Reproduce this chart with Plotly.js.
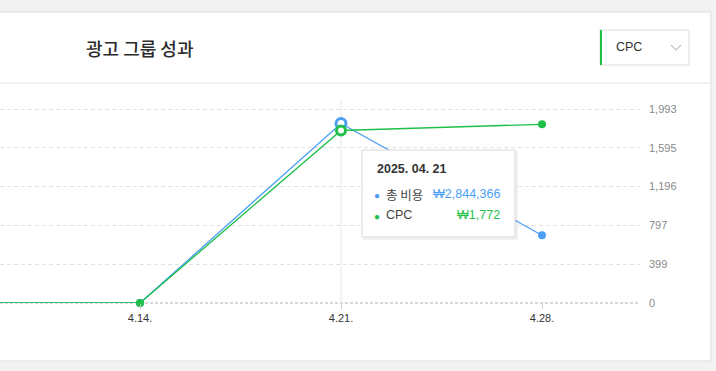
<!DOCTYPE html>
<html><head><meta charset="utf-8">
<script src="https://cdn.plot.ly/plotly-3.0.1.min.js"></script>
<style>html,body{margin:0;padding:0;background:#f2f2f2;}#chart{width:716px;height:371px;}</style>
</head><body><div id="chart"></div>
<script>
const dates = ['2025-04-07', '2025-04-14', '2025-04-21', '2025-04-28'];
const totalCost = [0, 0, 2844366, 1073000];
const cpc = [0, 0, 1772, 1836];
const xTickVals = ['2025-04-14', '2025-04-21', '2025-04-28'];
const xTickText = ['4.14.', '4.21.', '4.28.'];
const yTickVals = [0, 399, 797, 1196, 1595, 1993];
const yTickText = ['0', '399', '797', '1,196', '1,595', '1,993'];
const seriesNames = ['총 비용', 'CPC'];
const chartTitle = '광고 그룹 성과';
const selectLabel = 'CPC';
const hoverIndex = 2;

const BLUE = '#4a9ff5', GREEN = '#1fbf4a';
const W = 716, H = 371, L = 0, R = 76, T = 103, B = 68;
const PW = W - L - R, PH = H - T - B;
const px = x => (x - L) / PW;
const py = y => (H - B - y) / PH;
// top tick (1993) sits at pixel 109, zero at 303
const scale = PH / (303 - 109);

const t0 = Date.UTC(2025, 3, 14), t1 = Date.UTC(2025, 3, 21);
const pxPerMs = (341 - 140) / (t1 - t0);
const xr = [t0 - 140 / pxPerMs, t1 + (PW - 341) / pxPerMs];

const hd = dates[hoverIndex].split('-');
const hoverDate = hd[0] + '. ' + hd[1] + '. ' + hd[2];
const fmt = v => '₩' + Math.round(v).toLocaleString('en-US');

const KR = '"Noto Sans CJK KR", "Noto Sans", sans-serif';
const AR = '"Liberation Sans", Arial, sans-serif';
const YR = [0, 1993 * scale];

const traces = [
  {x: dates, y: cpc, type: 'scatter', mode: 'lines', line: {color: 'rgba(0,0,0,0)', width: 0}, hoverinfo: 'skip'},
  {x: dates, y: totalCost, yaxis: 'y2', type: 'scatter', mode: 'lines+markers', name: seriesNames[0],
   line: {color: BLUE, width: 1.3}, marker: {color: BLUE, size: 8}, cliponaxis: false},
  {x: [dates[hoverIndex]], y: [totalCost[hoverIndex]], yaxis: 'y2', type: 'scatter', mode: 'markers',
   marker: {color: '#ffffff', size: 10, line: {color: BLUE, width: 3}}, cliponaxis: false},
  {x: dates, y: cpc, yaxis: 'y3', type: 'scatter', mode: 'lines+markers', name: seriesNames[1],
   line: {color: GREEN, width: 1.3}, marker: {color: GREEN, size: 8}, cliponaxis: false},
  {x: [dates[hoverIndex]], y: [cpc[hoverIndex]], yaxis: 'y3', type: 'scatter', mode: 'markers',
   marker: {color: '#ffffff', size: 9, line: {color: GREEN, width: 3}}, cliponaxis: false}
];

const shapes = [
  {type: 'rect', xref: 'paper', yref: 'paper', x0: px(-5), x1: px(711), y0: py(361), y1: py(12),
   fillcolor: '#ffffff', line: {color: '#dddddd', width: 1}, layer: 'below'},
  {type: 'line', xref: 'paper', yref: 'paper', x0: px(-5), x1: px(711), y0: py(83), y1: py(83),
   line: {color: '#e3e3e3', width: 1}, layer: 'below'},
  {type: 'rect', xref: 'paper', yref: 'paper', x0: px(600), x1: px(689), y0: py(65), y1: py(30),
   fillcolor: '#ffffff', line: {color: '#dddddd', width: 1}, layer: 'below'},
  {type: 'line', xref: 'paper', yref: 'paper', x0: px(601), x1: px(601), y0: py(65), y1: py(30),
   line: {color: GREEN, width: 2}, layer: 'below'},
  {type: 'path', xref: 'paper', yref: 'paper',
   path: 'M ' + px(671) + ' ' + py(45) + ' L ' + px(676) + ' ' + py(50) + ' L ' + px(681) + ' ' + py(45),
   line: {color: '#c4c4c4', width: 1.2}},
  {type: 'line', xref: 'paper', yref: 'paper', x0: 0, x1: 1, y0: 0, y1: 0,
   line: {color: '#b0b0b0', width: 1, dash: '3px,2px'}, layer: 'below'},
  {type: 'line', xref: 'x', yref: 'paper', x0: dates[hoverIndex], x1: dates[hoverIndex], y0: 0, y1: py(100),
   line: {color: '#e6e6e6', width: 1}, layer: 'below'},
  {type: 'rect', xref: 'paper', yref: 'paper', x0: px(363), x1: px(518), y0: py(240), y1: py(151),
   fillcolor: 'rgba(0,0,0,0.06)', line: {width: 0}},
  {type: 'rect', xref: 'paper', yref: 'paper', x0: px(362), x1: px(515), y0: py(237), y1: py(150),
   fillcolor: '#ffffff', line: {color: '#d8d8d8', width: 1}}
];

const ann = (text, x, y, opts) => Object.assign({text: text, x: px(x), y: py(y), xref: 'paper', yref: 'paper',
  showarrow: false, xanchor: 'left', yanchor: 'middle'}, opts);

const annotations = [
  ann(chartTitle, 84, 48, {font: {family: KR, size: 18, color: '#2b2b2b', weight: 500}}),
  ann(selectLabel, 614, 47, {font: {family: AR, size: 12.5, color: '#333333'}}),
  ann('<b>' + hoverDate + '</b>', 375, 169, {font: {family: AR, size: 12.5, color: '#333333'}}),
  ann('●', 372, 195, {font: {family: AR, size: 10, color: BLUE}}),
  ann(seriesNames[0], 384, 194, {font: {family: KR, size: 12.5, color: '#444444'}}),
  ann(fmt(totalCost[hoverIndex]), 502, 194, {xanchor: 'right', font: {family: AR, size: 12.5, color: BLUE}}),
  ann('●', 372, 216, {font: {family: AR, size: 10, color: GREEN}}),
  ann(seriesNames[1], 384, 215, {font: {family: AR, size: 12.5, color: '#444444'}}),
  ann(fmt(cpc[hoverIndex]), 502, 215, {xanchor: 'right', font: {family: AR, size: 12.5, color: GREEN}})
];

const layout = {
  width: W, height: H,
  margin: {l: L, r: R, t: T, b: B, pad: 0},
  paper_bgcolor: '#f2f2f2', plot_bgcolor: 'rgba(0,0,0,0)',
  showlegend: false, hovermode: false,
  xaxis: {type: 'date', range: xr, tickvals: xTickVals, ticktext: xTickText, showgrid: false, zeroline: false,
    ticks: 'outside', ticklen: 5, tickcolor: '#cccccc', tickfont: {family: AR, size: 11, color: '#333333'},
    showline: false, fixedrange: true},
  yaxis: {range: YR, side: 'right', tickvals: yTickVals, ticktext: yTickText, showgrid: true,
    gridcolor: '#e2e2e2', griddash: '4px,3px', zeroline: false, showline: false, ticks: '',
    ticklabelstandoff: 8, tickfont: {family: AR, size: 11, color: '#888888'}, fixedrange: true},
  yaxis2: {range: [0, 3074000 * scale], overlaying: 'y', visible: false, fixedrange: true},
  yaxis3: {range: YR, overlaying: 'y', visible: false, fixedrange: true},
  shapes: shapes,
  annotations: annotations
};

Plotly.newPlot('chart', traces, layout, {displayModeBar: false, staticPlot: true});
</script></body></html>
